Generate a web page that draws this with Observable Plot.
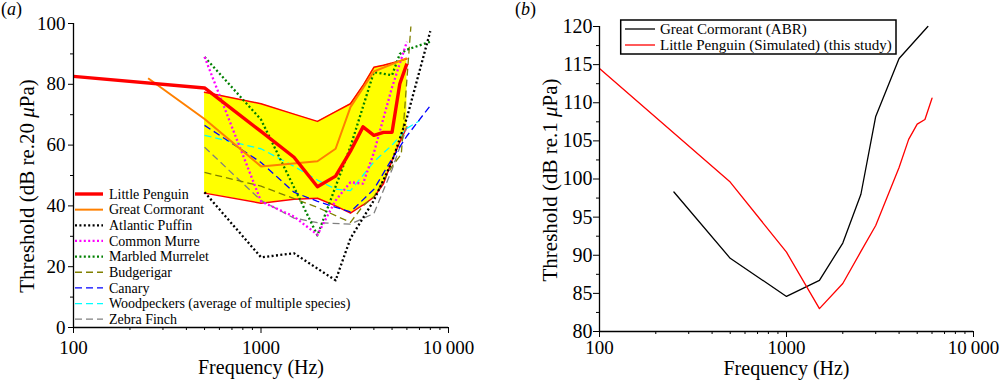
<!DOCTYPE html>
<html>
<head>
<meta charset="utf-8">
<script src="https://cdn.jsdelivr.net/npm/d3@7"></script>
<script src="https://cdn.jsdelivr.net/npm/@observablehq/plot@0.6"></script>
<style>
  html, body { margin: 0; padding: 0; background: #fff; }
  #wrap { position: relative; width: 1000px; height: 380px; }
  #pa, #pb { position: absolute; top: 0; }
  #pa { left: 0; }
  #pb { left: 500px; }
  svg text { font-family: "Liberation Serif", "Times New Roman", serif; }
</style>
</head>
<body>
<div id="wrap"><div id="pa"></div><div id="pb"></div></div>
<script>
// ---------------- Panel (a) data ----------------
const penguinFreq = [100, 500, 1000, 1500, 2000, 2500, 3000, 3500, 4000, 4500, 5000, 5500, 6000];
const penguinDb   = [82.6, 78.8, 64.5, 56.0, 46.3, 49.8, 58.0, 66.0, 63.2, 64.2, 64.2, 80.2, 86.8];

const bandFreq = [500, 1000, 1500, 2000, 2500, 3000, 3500, 4000, 4500, 5000, 5500, 6000];
const bandHigh = [77.4, 73.6, 70.2, 67.8, 71.0, 73.6, 79.6, 85.6, 86.3, 87.0, 87.7, 88.4];
const bandLow  = [44.2, 40.9, 42.2, 42.5, 40.0, 37.6, 40.3, 42.9, 47.3, 55.0, 61.0, 66.0];

const cormorantFreq = [250, 500, 1000, 2000, 2500, 3000, 4000, 6000];
const cormorantDb   = [82.0, 68.6, 53.0, 54.7, 58.8, 72.5, 84.2, 88.6];

const puffinFreq = [500, 1000, 1500, 2500, 3000, 4000, 5000, 6000, 8000];
const puffinDb   = [44.5, 23.1, 24.4, 15.5, 29.3, 41.8, 54.6, 69.0, 97.5];

const murreFreq = [500, 1000, 1500, 2000, 2500, 3000, 3500, 4000, 5000, 6000];
const murreDb   = [89.0, 41.5, 36.5, 30.5, 41.8, 47.8, 47.3, 57.5, 79.0, 94.0];

const murreletFreq = [500, 1000, 2000, 3000, 4000, 5000, 5500, 6000, 8000];
const murreletDb   = [89.0, 68.4, 30.3, 59.5, 84.0, 83.0, 90.0, 91.4, 94.0];

const budgieFreq = [500, 1000, 2000, 3000, 3500, 4000, 5000, 5600, 6300];
const budgieDb   = [51.0, 46.5, 39.5, 34.6, 40.0, 43.0, 53.0, 57.0, 99.0];

const canaryFreq = [500, 1000, 1500, 2000, 3000, 4000, 5000, 6000, 8000];
const canaryDb   = [66.5, 54.3, 44.5, 41.5, 38.0, 45.5, 55.5, 63.0, 73.0];

const woodFreq = [500, 1000, 1500, 2000, 2500, 3000, 4000, 5000, 6000, 7000];
const woodDb   = [63.2, 58.8, 53.0, 48.5, 45.5, 45.0, 54.5, 60.0, 65.5, 68.0];

const zebraFreq = [500, 1000, 1500, 2000, 3000, 4000, 5000, 6000];
const zebraDb   = [59.3, 41.8, 36.0, 34.5, 34.0, 37.5, 52.0, 66.0];

const legendA = ["Little Penguin", "Great Cormorant", "Atlantic Puffin", "Common Murre", "Marbled Murrelet",
                 "Budgerigar", "Canary", "Woodpeckers (average of multiple species)", "Zebra Finch"];

// ---------------- Panel (b) data ----------------
const abrFreq = [250, 500, 1000, 1500, 2000, 2500, 3000, 4000, 5700];
const abrDb   = [98.3, 89.6, 84.6, 86.7, 91.6, 98.0, 108.2, 115.8, 120.0];

const simFreq = [100, 500, 1000, 1500, 2000, 2500, 3000, 4000, 4500, 5000, 5500, 6000];
const simDb   = [114.5, 99.6, 90.4, 83.0, 86.3, 90.5, 93.9, 101.5, 105.2, 107.2, 107.8, 110.6];

const legendB = ["Great Cormorant (ABR)", "Little Penguin (Simulated) (this study)"];

// tick values
const xMajor = [100, 1000, 10000];
const xMinor = [200, 300, 400, 500, 600, 700, 800, 900, 2000, 3000, 4000, 5000, 6000, 7000, 8000, 9000];
const yMajorA = [0, 20, 40, 60, 80, 100];
const yMinorA = [10, 30, 50, 70, 90];
const yMajorB = [80, 85, 90, 95, 100, 105, 110, 115, 120];
const yMinorB = [82.5, 87.5, 92.5, 97.5, 102.5, 107.5, 112.5, 117.5];

// ---------------- helpers ----------------
const rows = (fs, vs) => fs.map((f, i) => ({f, v: vs[i]}));
const band = bandFreq.map((f, i) => ({f, lo: bandLow[i], hi: bandHigh[i]}));
const fmtX = d => d === 10000 ? "10\u2009000" : String(d);
const FONT = '"Liberation Serif", "Times New Roman", serif';

const styles = {
  penguin:  {stroke: "#ff0000", strokeWidth: 3.4},
  cormorant:{stroke: "#ff8000", strokeWidth: 2},
  puffin:   {stroke: "#000000", strokeWidth: 2.3, strokeDasharray: "2,2.4"},
  murre:    {stroke: "#ff00ff", strokeWidth: 2.3, strokeDasharray: "2,2.4"},
  murrelet: {stroke: "#008000", strokeWidth: 2.3, strokeDasharray: "2,2.4"},
  budgie:   {stroke: "#808000", strokeWidth: 1.3, strokeDasharray: "7,4"},
  canary:   {stroke: "#0000ff", strokeWidth: 1.3, strokeDasharray: "7,4"},
  wood:     {stroke: "#00ffff", strokeWidth: 1.3, strokeDasharray: "7,4"},
  zebra:    {stroke: "#808080", strokeWidth: 1.3, strokeDasharray: "7,4"}
};
const legendKeys = ["penguin","cormorant","puffin","murre","murrelet","budgie","canary","wood","zebra"];
const lineOpts = k => ({x: "f", y: "v", ...styles[k], strokeLinecap: "butt", strokeLinejoin: "round"});

// ---------------- Panel (a) ----------------
const plotA = Plot.plot({
  width: 500, height: 380,
  marginLeft: 73, marginRight: 52, marginTop: 23, marginBottom: 53,
  x: {type: "log", domain: [100, 10000], label: null},
  y: {domain: [0, 100], label: null},
  style: {fontFamily: FONT, color: "black", background: "transparent", overflow: "visible"},
  marks: [
    Plot.areaY(band, {x: "f", y1: "lo", y2: "hi", fill: "#ffff00"}),
    Plot.line(band, {x: "f", y: "hi", stroke: "#ff0000", strokeWidth: 1.5}),
    Plot.line(band, {x: "f", y: "lo", stroke: "#ff0000", strokeWidth: 1.5}),
    Plot.line(rows(zebraFreq, zebraDb), lineOpts("zebra")),
    Plot.line(rows(woodFreq, woodDb), lineOpts("wood")),
    Plot.line(rows(canaryFreq, canaryDb), lineOpts("canary")),
    Plot.line(rows(budgieFreq, budgieDb), lineOpts("budgie")),
    Plot.line(rows(murreletFreq, murreletDb), lineOpts("murrelet")),
    Plot.line(rows(murreFreq, murreDb), lineOpts("murre")),
    Plot.line(rows(puffinFreq, puffinDb), lineOpts("puffin")),
    Plot.line(rows(cormorantFreq, cormorantDb), lineOpts("cormorant")),
    Plot.line(rows(penguinFreq, penguinDb), lineOpts("penguin")),
    Plot.axisY({ticks: yMajorA, tickSize: 5, tickPadding: 3, fontSize: 19, label: null}),
    Plot.axisY({ticks: yMinorA, tickSize: 3, tickFormat: () => "", label: null}),
    Plot.axisX({ticks: xMajor, tickSize: 6, tickPadding: 7, fontSize: 19, tickFormat: fmtX, label: null}),
    Plot.axisX({ticks: xMinor, tickSize: 3, tickFormat: () => "", label: null}),
    Plot.ruleX([100], {strokeWidth: 1.3}),
    Plot.ruleY([0], {strokeWidth: 1.3})
  ]
});
document.getElementById("pa").appendChild(plotA);

// ---------------- Panel (b) ----------------
const plotB = Plot.plot({
  width: 500, height: 380,
  marginLeft: 99, marginRight: 27, marginTop: 26, marginBottom: 49,
  x: {type: "log", domain: [100, 10000], label: null},
  y: {domain: [80, 120], label: null},
  style: {fontFamily: FONT, color: "black", background: "transparent", overflow: "visible"},
  marks: [
    Plot.line(rows(abrFreq, abrDb), {x: "f", y: "v", stroke: "#000000", strokeWidth: 1.3}),
    Plot.line(rows(simFreq, simDb), {x: "f", y: "v", stroke: "#ff0000", strokeWidth: 1.3}),
    Plot.axisY({ticks: yMajorB, tickSize: 6, tickPadding: 1, fontSize: 20, label: null}),
    Plot.axisY({ticks: yMinorB, tickSize: 3, tickFormat: () => "", label: null}),
    Plot.axisX({ticks: xMajor, tickSize: 6, tickPadding: 3, fontSize: 19, tickFormat: fmtX, label: null}),
    Plot.axisX({ticks: xMinor, tickSize: 3, tickFormat: () => "", label: null}),
    Plot.ruleX([100], {strokeWidth: 1.3}),
    Plot.ruleY([80], {strokeWidth: 1.3})
  ]
});
document.getElementById("pb").appendChild(plotB);

// ---------------- text & legends ----------------
function yTitle(svg, x, y, pre) {
  const t = svg.append("text").attr("transform", `translate(${x},${y}) rotate(-90)`)
    .attr("text-anchor", "middle").attr("dominant-baseline", "central")
    .attr("font-size", 21).attr("fill", "black");
  t.append("tspan").text(pre);
  t.append("tspan").attr("font-style", "italic").text("\u03bc");
  t.append("tspan").text("Pa)");
}
function panelLabel(svg, x, y, letter) {
  const t = svg.append("text").attr("x", x).attr("y", y).attr("text-anchor", "start")
    .attr("font-size", 18).attr("fill", "black");
  t.append("tspan").text("(");
  t.append("tspan").attr("font-style", "italic").text(letter);
  t.append("tspan").text(")");
}

const sa = d3.select(plotA);
panelLabel(sa, 1, 15, "a");
yTitle(sa, 27, 186, "Threshold (dB re.20 ");
sa.append("text").attr("x", 261).attr("y", 374).attr("text-anchor", "middle")
  .attr("font-size", 20).attr("fill", "black").text("Frequency (Hz)");
legendA.forEach((name, i) => {
  const y = 194 + i * 15.65;
  const s = styles[legendKeys[i]];
  sa.append("line").attr("x1", 75).attr("x2", 103).attr("y1", y).attr("y2", y)
    .attr("stroke", s.stroke).attr("stroke-width", s.strokeWidth)
    .attr("stroke-dasharray", s.strokeDasharray || null);
  sa.append("text").attr("x", 109).attr("y", y + 4.8).attr("text-anchor", "start")
    .attr("font-size", 14).attr("fill", "black").text(name);
});

const sb = d3.select(plotB);
panelLabel(sb, 15, 15, "b");
yTitle(sb, 50, 180, "Threshold (dB re.1 ");
sb.append("text").attr("x", 286.5).attr("y", 375).attr("text-anchor", "middle")
  .attr("font-size", 20).attr("fill", "black").text("Frequency (Hz)");
sb.append("rect").attr("x", 120.7).attr("y", 20).attr("width", 275.3).attr("height", 34)
  .attr("fill", "white").attr("stroke", "black").attr("stroke-width", 1.5);
const colB = ["#000000", "#ff0000"];
legendB.forEach((name, i) => {
  const y = 29 + i * 16;
  sb.append("line").attr("x1", 125).attr("x2", 155).attr("y1", y).attr("y2", y)
    .attr("stroke", colB[i]).attr("stroke-width", 1.3);
  sb.append("text").attr("x", 160).attr("y", y + 5).attr("text-anchor", "start")
    .attr("font-size", 15).attr("fill", "black").text(name);
});
</script>
</body>
</html>
